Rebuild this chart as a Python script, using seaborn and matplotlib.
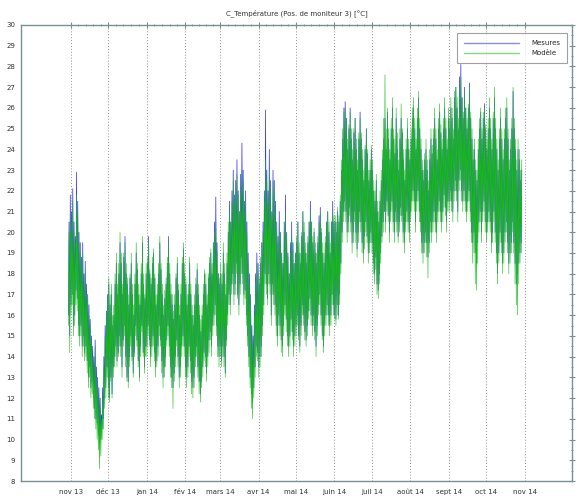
import matplotlib
matplotlib.use("Agg")
import numpy as np
import pandas as pd
import seaborn as sns
import matplotlib.pyplot as plt
import matplotlib.dates as mdates
from matplotlib.ticker import FixedLocator, MultipleLocator

# ---------------- data (daily low / high) ----------------
start_date = "2013-10-30"
n_days = 365

mes_hi = [
    20.5, 21.8,
    21.0, 22.1, 20.5, 19.8, 22.9, 21.5, 20.0, 19.5, 18.8, 19.5, 18.0, 18.6, 17.5, 17.0, 16.5, 15.8, 15.0, 14.5, 14.0, 14.8, 13.5, 13.0, 12.5, 12.0, 11.2, 12.5, 14.0, 15.5, 16.2, 17.0,
    17.5, 16.5, 17.0, 15.5, 16.0, 17.5, 18.5, 17.0, 18.0, 19.5, 18.5, 17.0, 18.8, 19.8, 18.0, 17.5, 16.5, 17.8, 18.5, 17.0, 16.0, 17.5, 19.0, 18.2, 17.0, 16.5, 18.0, 19.5, 17.5, 16.8, 18.0,
    18.5, 19.8, 18.0, 17.5, 18.5, 19.0, 17.8, 16.5, 17.0, 18.0, 19.5, 18.2, 17.0, 16.0, 16.8, 17.5, 18.5, 19.8, 18.0, 17.0, 16.5, 15.8, 16.5, 17.8, 18.5, 17.2, 16.0, 17.0, 18.5, 19.2, 18.0,
    17.5, 16.5, 17.0, 18.5, 17.0, 16.0, 15.5, 16.5, 17.5, 18.2, 17.0, 16.0, 15.2, 16.0, 17.0, 18.0, 17.5, 16.5, 17.8, 18.5, 19.0, 18.0, 19.5, 20.5, 21.7, 19.5, 18.0, 17.5,
    18.0, 17.5, 19.0, 18.0, 17.0, 18.5, 20.0, 21.5, 20.5, 22.0, 23.0, 21.8, 22.5, 23.5, 22.0, 21.0, 22.8, 24.3, 23.0, 21.5, 22.0, 20.5, 19.0, 18.0, 17.0, 15.5, 15.0, 16.5, 18.0, 19.0, 18.5,
    17.5, 18.5, 19.5, 20.5, 22.0, 25.9, 23.0, 22.0, 24.0, 22.5, 21.0, 23.0, 22.5, 21.5, 20.5, 19.8, 21.0, 20.0, 19.0, 18.5, 20.5, 21.8, 20.0, 19.0, 18.0, 19.5, 20.5, 19.5, 18.5, 19.0,
    19.5, 20.5, 19.0, 18.5, 19.8, 21.0, 20.0, 19.0, 18.5, 19.5, 20.5, 21.5, 20.5, 19.5, 20.0, 19.0, 18.5, 19.5, 20.8, 21.2, 20.0, 19.0, 18.5, 19.5, 20.5, 21.0, 20.0, 19.0, 20.5, 21.5, 20.5,
    20.5, 20.0, 21.0, 20.5, 21.5, 23.0, 24.5, 26.0, 26.3, 25.5, 24.0, 25.0, 26.0, 24.5, 23.5, 24.8, 25.5, 24.0, 23.0, 24.5, 25.8, 24.5, 23.5, 22.5, 24.0, 25.0, 23.8, 22.5, 23.0, 24.0,
    23.0, 22.0, 21.5, 22.5, 21.0, 20.5, 21.5, 22.5, 23.5, 24.5, 25.5, 24.0, 25.8, 24.5, 23.5, 25.0, 26.0, 24.5, 23.8, 25.5, 24.0, 23.0, 24.5, 25.5, 24.8, 23.5, 22.5, 24.0, 25.0, 24.0, 23.5,
    24.5, 25.5, 26.0, 25.0, 24.0, 25.5, 26.5, 25.0, 24.0, 23.0, 22.5, 23.5, 24.0, 23.0, 22.0, 23.5, 24.5, 23.8, 24.5, 25.5, 24.5, 23.5, 25.0, 25.8, 24.8, 24.0, 25.0, 26.0, 25.0, 24.0, 25.5,
    25.0, 26.0, 25.5, 24.5, 26.5, 27.0, 26.0, 25.0, 27.5, 28.1, 26.5, 25.5, 27.0, 26.0, 25.0, 26.0, 27.2, 25.5, 24.5, 23.5, 24.0, 23.0, 22.5, 24.0, 25.0, 25.8, 24.5, 25.5, 26.2, 25.0,
    24.0, 25.0, 26.0, 25.0, 24.0, 25.5, 26.5, 25.0, 24.0, 23.0, 24.5, 25.5, 24.5, 23.5, 24.5, 25.5, 26.0, 24.5, 23.0, 24.0, 25.0, 26.8, 25.0, 24.0, 23.0, 24.0, 23.5, 22.5, 23.0,
]
mes_lo = [
    16.0, 15.0,
    16.5, 17.0, 15.5, 16.0, 17.2, 16.8, 15.5, 15.0, 15.5, 14.5, 15.0, 14.2, 14.5, 13.8, 13.0, 13.5, 12.5, 12.8, 12.0, 11.5, 11.0, 10.8, 10.2, 9.8, 10.0, 10.5, 11.0, 12.0, 12.5, 13.5,
    12.5, 12.0, 13.0, 12.2, 13.5, 14.0, 14.5, 13.8, 14.2, 15.0, 14.5, 13.5, 14.8, 15.5, 14.0, 13.0, 12.8, 14.0, 15.0, 14.0, 13.2, 14.2, 15.5, 14.8, 13.8, 13.0, 14.5, 15.5, 14.2, 13.5, 14.5,
    14.5, 15.5, 14.8, 14.0, 14.5, 15.0, 14.2, 13.5, 13.8, 14.5, 15.5, 14.8, 13.8, 13.0, 13.5, 14.0, 14.8, 15.5, 14.5, 13.5, 13.0, 12.5, 13.2, 14.0, 14.8, 14.0, 13.0, 13.5, 14.5, 15.0, 14.5,
    13.5, 13.0, 13.5, 14.5, 13.8, 12.8, 12.5, 13.0, 14.0, 14.5, 13.5, 12.8, 12.2, 12.8, 13.5, 14.2, 14.0, 13.2, 14.0, 14.8, 15.2, 14.5, 15.5, 16.0, 16.5, 15.5, 14.5, 14.0,
    14.5, 13.8, 14.5, 14.0, 13.2, 14.8, 16.0, 17.0, 16.5, 17.5, 18.0, 17.0, 17.5, 18.5, 17.0, 16.5, 17.5, 18.8, 18.0, 17.0, 17.2, 16.0, 15.0, 14.0, 13.0, 12.2, 11.8, 12.5, 13.5, 14.5, 14.2,
    13.5, 14.0, 14.5, 15.5, 16.5, 18.0, 17.5, 16.8, 18.0, 17.5, 16.0, 17.5, 17.0, 16.5, 15.5, 15.0, 16.0, 15.5, 14.8, 14.5, 15.5, 16.5, 15.8, 15.0, 14.5, 15.0, 15.8, 15.2, 14.5, 15.0,
    15.5, 16.0, 15.0, 14.5, 15.5, 16.5, 16.0, 15.2, 14.8, 15.5, 16.2, 16.8, 16.0, 15.5, 16.0, 15.2, 14.5, 15.5, 16.5, 17.0, 16.0, 15.0, 14.5, 15.5, 16.0, 16.5, 16.0, 15.5, 16.0, 17.0, 16.5,
    16.0, 15.8, 16.5, 16.0, 17.0, 18.5, 20.0, 21.0, 21.5, 21.0, 20.0, 20.5, 21.2, 20.5, 19.5, 20.0, 21.0, 20.0, 19.2, 20.0, 21.0, 20.5, 19.5, 19.0, 19.8, 20.5, 19.8, 19.0, 19.5, 20.0,
    19.5, 18.5, 18.0, 18.8, 17.5, 17.2, 18.0, 19.0, 19.8, 20.5, 21.0, 20.5, 21.5, 20.8, 20.0, 21.0, 21.5, 20.5, 20.0, 21.0, 20.5, 19.8, 20.5, 21.2, 20.8, 20.0, 19.5, 20.5, 21.0, 20.5, 20.0,
    21.0, 21.5, 22.0, 21.5, 20.5, 21.5, 22.0, 21.0, 20.5, 19.5, 19.0, 19.5, 20.0, 19.5, 18.8, 19.5, 20.5, 20.0, 20.5, 21.0, 20.5, 20.0, 21.0, 21.5, 21.0, 20.5, 21.0, 21.8, 21.2, 20.5, 21.5,
    21.5, 22.0, 21.5, 21.0, 22.0, 22.5, 22.0, 21.0, 22.5, 23.0, 22.0, 21.5, 22.0, 21.5, 21.0, 21.5, 22.0, 21.0, 20.0, 19.5, 20.0, 19.0, 18.5, 19.5, 20.5, 21.0, 20.0, 21.0, 21.5, 20.5,
    20.0, 20.5, 21.0, 20.5, 19.5, 20.0, 21.0, 20.0, 19.0, 18.0, 19.0, 20.0, 19.5, 18.5, 19.0, 20.0, 20.5, 19.5, 18.5, 19.0, 19.5, 20.5, 19.5, 18.5, 17.5, 18.0, 18.5, 19.0, 19.5,
]
mod_hi = [
    20.0, 21.0,
    20.5, 21.5, 20.0, 19.5, 21.8, 21.0, 19.5, 19.0, 18.5, 19.0, 17.5, 18.0, 17.0, 16.8, 16.0, 15.5, 14.8, 14.0, 13.5, 14.5, 13.0, 12.5, 12.0, 11.5, 11.0, 12.0, 13.5, 15.0, 16.0, 16.8,
    17.8, 17.0, 17.5, 16.0, 16.5, 18.0, 19.0, 17.5, 18.5, 20.0, 19.0, 17.5, 19.0, 19.5, 18.5, 17.8, 17.0, 18.0, 19.0, 17.5, 16.5, 18.0, 19.5, 18.5, 17.5, 17.0, 18.5, 19.8, 18.0, 17.0, 18.5,
    18.8, 19.5, 18.2, 17.8, 18.8, 19.2, 18.0, 17.0, 17.5, 18.5, 19.8, 18.5, 17.5, 16.5, 17.2, 17.8, 18.8, 19.5, 18.5, 17.5, 17.0, 16.2, 17.0, 18.0, 18.8, 17.5, 16.5, 17.5, 18.8, 19.5, 18.5,
    17.8, 17.0, 17.5, 18.8, 17.5, 16.5, 16.0, 17.0, 17.8, 18.5, 17.5, 16.5, 15.8, 16.5, 17.5, 18.2, 18.0, 17.0, 18.0, 18.8, 19.2, 18.5, 19.5, 20.0, 20.5, 19.0, 18.0, 17.8,
    18.5, 18.0, 19.5, 18.5, 17.5, 19.0, 20.5, 21.0, 20.5, 21.5, 22.5, 21.5, 22.0, 22.8, 21.8, 21.0, 22.0, 23.0, 22.5, 21.0, 21.5, 20.0, 18.5, 17.5, 16.5, 15.0, 14.5, 16.0, 17.5, 18.5, 18.0,
    17.8, 18.8, 19.5, 20.0, 21.5, 23.5, 22.5, 21.5, 23.0, 22.0, 20.8, 22.5, 22.0, 21.0, 20.0, 19.5, 20.5, 19.8, 19.0, 18.5, 20.0, 21.0, 19.8, 18.8, 18.0, 19.0, 20.0, 19.5, 18.5, 19.0,
    19.8, 20.5, 19.5, 19.0, 20.0, 21.0, 20.5, 19.5, 19.0, 19.8, 20.5, 21.0, 20.5, 19.8, 20.2, 19.5, 19.0, 19.8, 20.5, 21.0, 20.2, 19.5, 19.0, 19.8, 20.5, 21.0, 20.5, 19.5, 20.5, 21.0, 20.8,
    20.8, 20.5, 21.2, 20.8, 21.8, 23.5, 25.0, 25.8, 26.0, 25.5, 24.5, 25.2, 25.8, 25.0, 24.0, 25.0, 25.5, 24.5, 23.5, 24.8, 25.5, 24.8, 24.0, 23.0, 24.2, 25.0, 24.0, 23.0, 23.5, 24.2,
    23.5, 22.5, 22.0, 22.8, 21.5, 21.0, 22.0, 23.0, 24.0, 25.5, 27.6, 25.0, 26.0, 25.0, 24.0, 25.5, 26.5, 25.0, 24.5, 26.0, 24.8, 23.5, 25.0, 26.2, 25.0, 24.0, 23.0, 24.5, 25.5, 24.5, 24.0,
    25.0, 26.0, 26.5, 25.5, 24.5, 26.0, 26.8, 25.5, 24.5, 23.5, 23.0, 23.8, 24.5, 23.5, 22.5, 24.0, 25.0, 24.2, 25.0, 26.0, 25.0, 24.0, 25.5, 26.2, 25.2, 24.5, 25.5, 26.5, 25.5, 24.5, 26.0,
    25.5, 26.5, 26.0, 25.0, 26.8, 27.0, 26.5, 25.5, 27.0, 27.5, 26.5, 25.8, 26.8, 26.0, 25.5, 26.2, 27.0, 25.8, 25.0, 24.0, 24.5, 23.5, 23.0, 24.5, 25.5, 26.0, 25.0, 25.8, 26.0, 25.2,
    24.5, 25.5, 26.5, 25.5, 24.5, 25.8, 27.0, 25.5, 24.5, 23.5, 25.0, 26.0, 25.0, 24.0, 25.0, 26.0, 26.5, 25.0, 23.5, 24.5, 25.5, 27.0, 25.5, 24.5, 23.5, 24.5, 24.0, 23.0, 23.5,
]
mod_lo = [
    15.5, 14.2,
    16.0, 16.5, 15.0, 15.5, 16.5, 16.2, 15.0, 14.5, 15.0, 14.0, 14.5, 13.8, 14.0, 13.2, 12.5, 13.0, 12.0, 12.2, 11.5, 11.0, 10.5, 10.0, 9.5, 8.6, 9.2, 10.0, 10.5, 11.5, 12.0, 13.0,
    12.0, 11.8, 12.8, 12.0, 13.0, 13.5, 14.0, 13.5, 14.0, 14.5, 14.0, 13.0, 14.5, 15.0, 13.5, 12.8, 12.5, 13.5, 14.5, 13.8, 13.0, 14.0, 15.0, 14.5, 13.5, 12.8, 14.0, 15.2, 14.0, 13.2, 14.0,
    14.0, 15.0, 14.5, 13.5, 14.0, 14.5, 13.8, 13.0, 13.5, 14.0, 15.0, 14.5, 13.2, 12.5, 13.0, 13.5, 14.5, 15.0, 14.0, 13.0, 12.5, 11.5, 12.8, 13.5, 14.5, 13.5, 12.5, 13.0, 14.0, 14.5, 14.0,
    13.0, 12.5, 13.0, 14.0, 13.2, 12.2, 12.0, 12.5, 13.5, 14.0, 13.0, 12.2, 11.8, 12.5, 13.0, 13.8, 13.5, 12.8, 13.5, 14.2, 14.8, 14.0, 15.0, 15.5, 16.0, 15.0, 14.0, 13.5,
    14.0, 13.5, 14.0, 13.5, 13.0, 14.5, 15.5, 16.5, 16.0, 17.0, 17.5, 16.5, 17.0, 18.0, 16.8, 16.0, 17.0, 18.0, 17.5, 16.5, 16.8, 15.5, 14.5, 13.5, 12.5, 11.5, 11.0, 12.0, 13.0, 14.0, 13.8,
    13.0, 13.5, 14.0, 15.0, 16.0, 17.5, 17.0, 16.5, 17.5, 17.0, 15.5, 17.0, 16.5, 16.0, 15.0, 14.5, 15.5, 15.0, 14.2, 14.0, 15.0, 16.0, 15.2, 14.5, 14.0, 14.5, 15.2, 14.8, 14.0, 14.5,
    15.0, 15.5, 14.8, 14.2, 15.0, 16.0, 15.5, 14.8, 14.5, 15.0, 15.8, 16.2, 15.5, 15.0, 15.5, 14.8, 14.0, 15.0, 16.0, 16.5, 15.5, 14.8, 14.2, 15.0, 15.5, 16.0, 15.5, 15.0, 15.5, 16.5, 16.0,
    15.8, 15.5, 16.0, 15.8, 16.5, 18.0, 19.5, 20.5, 21.0, 20.5, 19.5, 20.0, 20.8, 20.0, 19.0, 19.5, 20.5, 19.5, 18.8, 19.5, 20.5, 20.0, 19.0, 18.5, 19.2, 20.0, 19.5, 18.5, 19.0, 19.5,
    19.0, 18.0, 17.5, 18.2, 17.0, 16.8, 17.5, 18.5, 19.5, 20.0, 21.0, 20.0, 21.0, 20.5, 19.5, 20.5, 21.0, 20.0, 19.5, 20.5, 20.0, 19.5, 20.0, 20.8, 20.5, 19.5, 19.0, 20.0, 20.5, 20.0, 19.5,
    20.5, 21.0, 21.5, 21.0, 20.0, 21.0, 21.5, 20.5, 20.0, 19.0, 18.5, 19.0, 19.5, 18.8, 17.8, 19.0, 20.0, 19.5, 20.0, 20.5, 20.0, 19.5, 20.5, 21.0, 20.5, 20.0, 20.5, 21.2, 20.8, 20.0, 21.0,
    21.0, 21.5, 21.0, 20.5, 21.5, 22.0, 21.5, 20.5, 22.0, 22.5, 21.5, 21.0, 21.5, 21.0, 20.5, 21.0, 21.5, 20.5, 19.5, 18.5, 19.0, 17.5, 17.2, 18.5, 20.0, 20.5, 19.5, 20.5, 21.0, 20.0,
    19.5, 20.0, 20.5, 20.0, 19.0, 19.5, 20.5, 19.5, 18.5, 17.5, 18.5, 19.5, 19.0, 18.0, 18.5, 19.5, 20.0, 19.0, 18.0, 18.5, 19.0, 20.0, 19.0, 17.5, 16.5, 16.0, 17.5, 18.5, 19.0,
]

series_names = ["Mesures", "Modèle"]
series_colors = ["#2a2aee", "#18bc18"]
month_labels = ["nov 13", "déc 13", "jan 14", "fév 14", "mars 14", "avr 14", "mai 14",
                "juin 14", "juil 14", "août 14", "sept 14", "oct 14", "nov 14"]
title_text = "C_Température (Pos. de moniteur 3) [°C]"

# ---------------- build long table ----------------
days = pd.date_range(start_date, periods=n_days, freq="D")
t_low = days + pd.Timedelta(hours=5)
t_high = days + pd.Timedelta(hours=15)

frames = []
for name, lo, hi in [(series_names[0], mes_lo, mes_hi), (series_names[1], mod_lo, mod_hi)]:
    lo = list(lo)[:n_days]
    hi = list(hi)[:n_days]
    n = min(len(lo), len(hi))
    tt = np.empty(2 * n, dtype="datetime64[ns]")
    vv = np.empty(2 * n)
    tt[0::2] = t_low[:n].values
    tt[1::2] = t_high[:n].values
    vv[0::2] = lo
    vv[1::2] = hi
    frames.append(pd.DataFrame({"time": tt, "value": vv, "series": name}))
df = pd.concat(frames, ignore_index=True)

# ---------------- plot ----------------
sns.set_theme(style="white")
plt.rcParams["font.family"] = ["DejaVu Sans"]

fig = plt.figure(figsize=(5.79, 5.0), dpi=100)
ax = fig.add_axes([21 / 579, 1 - 481 / 500, (572 - 21) / 579, (481 - 25) / 500])

palette = dict(zip(series_names, series_colors))
sns.lineplot(data=df[df.series == series_names[0]], x="time", y="value", hue="series",
             hue_order=series_names, palette=palette, estimator=None, sort=False,
             linewidth=0.5, ax=ax, legend=False)
sns.lineplot(data=df[df.series == series_names[1]], x="time", y="value", hue="series",
             hue_order=series_names, palette=palette, estimator=None, sort=False,
             linewidth=0.42, ax=ax, legend=False)

month_starts = pd.date_range("2013-11-01", "2014-11-01", freq="MS")
ax.set_xlim(pd.Timestamp("2013-09-22"), pd.Timestamp("2014-12-09"))
ax.set_ylim(8, 30)

major_num = mdates.date2num(month_starts)
ax.xaxis.set_major_locator(FixedLocator(major_num))
ax.set_xticklabels(month_labels)
minor_num = []
for a, b in zip(major_num[:-1], major_num[1:]):
    for k in range(1, 5):
        minor_num.append(a + (b - a) * k / 5)
ax.xaxis.set_minor_locator(FixedLocator(minor_num))
ax.yaxis.set_major_locator(MultipleLocator(1))
ax.yaxis.set_minor_locator(MultipleLocator(0.5))

ax.set_xlabel("")
ax.set_ylabel("")
ax.grid(False)
for x in major_num:
    ax.axvline(x, color="#909090", linestyle=(0, (1, 2)), linewidth=0.7, zorder=0)

spine_col = "#7a9090"
for s in ax.spines.values():
    s.set_color(spine_col)
    s.set_linewidth(1.0)

ax.tick_params(axis="both", which="major", direction="inout", length=4, width=0.8,
               colors=spine_col, labelcolor="#333333", labelsize=5,
               top=True, right=True, pad=2)
ax.tick_params(axis="both", which="minor", direction="inout", length=2, width=0.6,
               colors=spine_col, top=True, right=True)
ax.tick_params(axis="x", which="major", pad=4)

ax.set_title(title_text, fontsize=5, color="#333333", pad=7)

handles = [plt.Line2D([], [], color=c, linewidth=1.0, alpha=0.55) for c in series_colors]
leg = ax.legend(handles, series_names, loc="upper right", bbox_to_anchor=(0.997, 0.99),
                fontsize=5, frameon=True, fancybox=False, handlelength=8,
                borderpad=1.0, labelspacing=0.6, handletextpad=1.7)
leg.get_frame().set_edgecolor("#888888")
leg.get_frame().set_linewidth(0.8)

fig.savefig("out.png", dpi=100)
